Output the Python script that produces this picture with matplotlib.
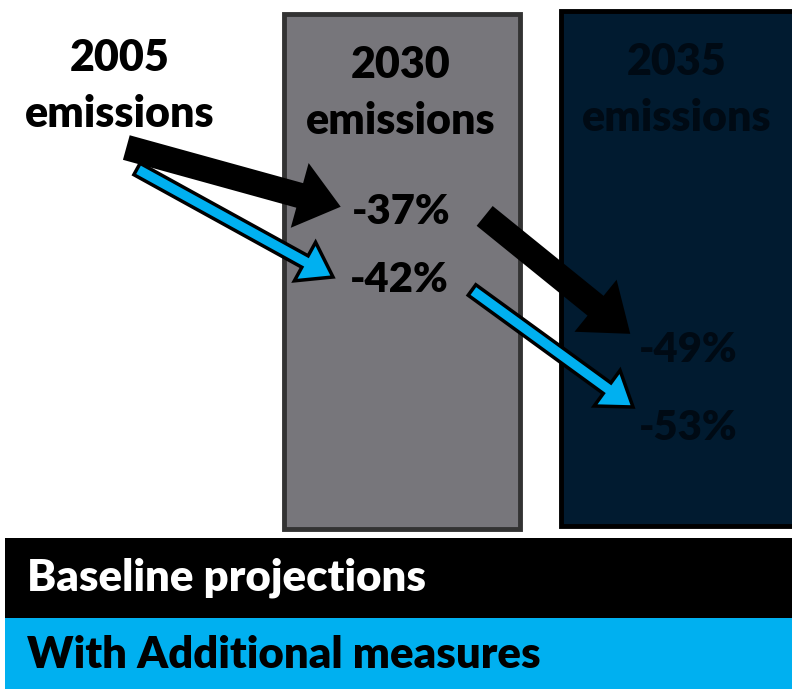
import matplotlib
matplotlib.use("Agg")
import matplotlib.pyplot as plt
from matplotlib.patches import Rectangle, FancyArrow

plt.rcParams['font.family'] = ['Lato', 'DejaVu Sans']

# =========================================
# data
# =========================================
start_label = "2005\nemissions"
year_labels = ["2030\nemissions", "2035\nemissions"]
baseline_pct = ["-37%", "-49%"]
additional_pct = ["-42%", "-53%"]
legend_labels = ["Baseline projections", "With Additional measures"]

# colours
gray_fill = '#77767b'
navy_fill = '#011b30'
blue = '#00b0f0'
fw = 'heavy'

# =========================================
# canvas in pixel units
# =========================================
fig = plt.figure(figsize=(7.92, 6.89), dpi=100)
ax = fig.add_axes([0, 0, 1, 1])
ax.set_xlim(0, 792)
ax.set_ylim(689, 0)
ax.axis('off')

# year boxes
ax.add_patch(Rectangle((284, 14), 236, 515, facecolor=gray_fill,
                       edgecolor='#333333', linewidth=3.5))
ax.add_patch(Rectangle((561, 11), 250, 515, facecolor=navy_fill,
                       edgecolor='#000000', linewidth=3.5, clip_on=False))

# legend bands
ax.add_patch(Rectangle((5, 538), 800, 80, facecolor='black', edgecolor='none'))
ax.add_patch(Rectangle((5, 618), 800, 75, facecolor=blue, edgecolor='none'))

# texts
ax.text(120, 86, start_label, ha='center', va='center', fontsize=31,
        fontweight=fw, linespacing=1.5)
ax.text(401, 93, year_labels[0], ha='center', va='center', fontsize=31,
        fontweight=fw, linespacing=1.5)
ax.text(677, 90, year_labels[1], ha='center', va='center', fontsize=31,
        fontweight=fw, linespacing=1.5, color='#000a14')

ax.text(401, 212, baseline_pct[0], ha='center', va='center', fontsize=30, fontweight=fw)
ax.text(399, 280, additional_pct[0], ha='center', va='center', fontsize=30, fontweight=fw)
ax.text(688, 350, baseline_pct[1], ha='center', va='center', fontsize=30,
        fontweight=fw, color='#000a14')
ax.text(688, 428, additional_pct[1], ha='center', va='center', fontsize=30,
        fontweight=fw, color='#000a14')

ax.text(27, 578, legend_labels[0], ha='left', va='center', fontsize=31.5,
        fontweight=fw, color='white')
ax.text(27, 655, legend_labels[1], ha='left', va='center', fontsize=31.5,
        fontweight=fw, color='black')

# arrows
def arrow(x0, y0, x1, y1, color, w, hw, hl):
    a = FancyArrow(x0, y0, x1 - x0, y1 - y0, width=w, head_width=hw,
                   head_length=hl, length_includes_head=True,
                   facecolor=color, edgecolor='black', linewidth=2.5,
                   joinstyle='miter')
    ax.add_patch(a)

arrow(128, 148, 338, 206, 'black', 22, 60, 38)
arrow(137, 169, 333, 277, blue, 13, 44, 32)
arrow(486, 217, 628, 332, 'black', 22, 60, 40)
arrow(472, 290, 633, 407, blue, 13, 44, 32)

fig.savefig("out.png", dpi=100)
